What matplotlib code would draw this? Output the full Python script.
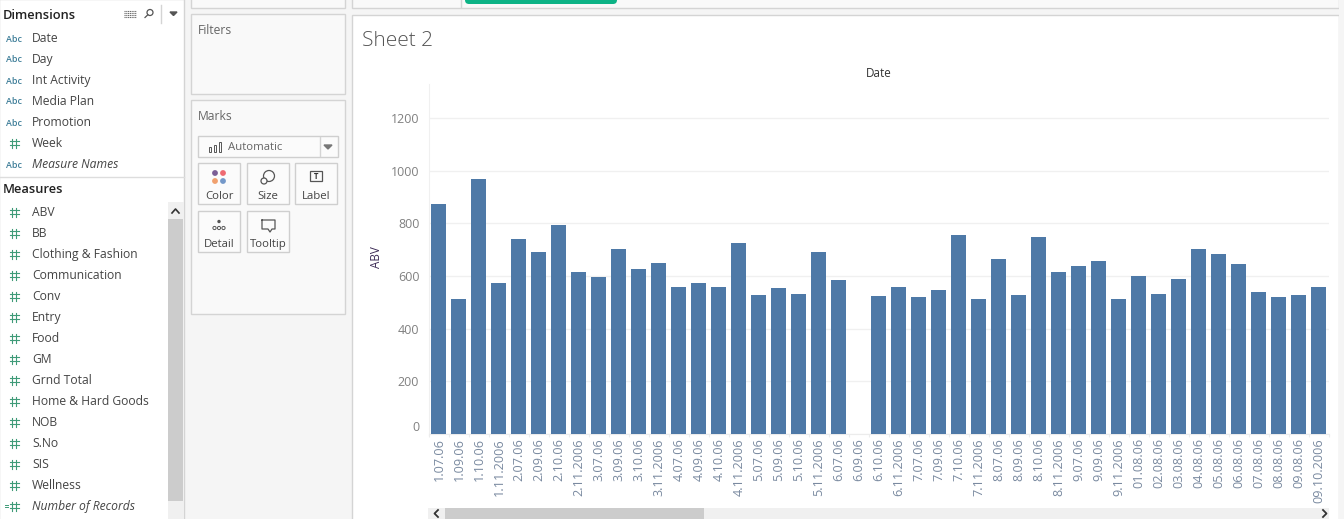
import matplotlib
matplotlib.use("Agg")
import matplotlib.pyplot as plt
from matplotlib.patches import Rectangle, FancyBboxPatch, Circle

dates = ["1.07.06","1.09.06","1.10.06","1.11.2006","2.07.06","2.09.06","2.10.06","2.11.2006",
         "3.07.06","3.09.06","3.10.06","3.11.2006","4.07.06","4.09.06","4.10.06","4.11.2006",
         "5.07.06","5.09.06","5.10.06","5.11.2006","6.07.06","6.09.06","6.10.06","6.11.2006",
         "7.07.06","7.09.06","7.10.06","7.11.2006","8.07.06","8.09.06","8.10.06","8.11.2006",
         "9.07.06","9.09.06","9.11.2006","01.08.06","02.08.06","03.08.06","04.08.06","05.08.06",
         "06.08.06","07.08.06","08.08.06","09.08.06","09.10.2006"]
abv = [873,513,968,573,740,691,794,615,596,703,627,650,558,573,558,725,528,555,532,691,585,0,
       524,558,520,547,756,513,665,528,748,615,638,657,513,600,532,589,703,684,646,539,520,528,558]
yticks = [0,200,400,600,800,1000,1200]
dimensions = ["Date","Day","Int Activity","Media Plan","Promotion","Week","Measure Names"]
measures = ["ABV","BB","Clothing & Fashion","Communication","Conv","Entry","Food","GM","Grnd Total",
            "Home & Hard Goods","NOB","S.No","SIS","Wellness","Number of Records"]

W, H = 1344, 519
plt.rcParams["font.family"] = ["Open Sans", "DejaVu Sans"]
fig = plt.figure(figsize=(W/100, H/100), dpi=100, facecolor="#f5f5f5")
ui = fig.add_axes([0, 0, 1, 1]); ui.set_xlim(0, W); ui.set_ylim(H, 0); ui.axis("off")

def box(x, y, w, h, fc="#f9f9f9", ec="#d4d4d4", lw=1.0, z=1):
    ui.add_patch(Rectangle((x, y), w, h, fc=fc, ec=ec, lw=lw, zorder=z))
def txt(x, y, s, size=9, color="#444444", **k):
    k.setdefault("va", "center")
    ui.text(x, y, s, fontsize=size, color=color, **k)
def hash_icon(cx, cy, color="#3f9b78"):
    for dx in (-2, 2):
        ui.plot([cx+dx, cx+dx], [cy-4.5, cy+4.5], color=color, lw=0.8, zorder=3)
    for dy in (-2, 2):
        ui.plot([cx-4.5, cx+4.5], [cy+dy, cy+dy], color=color, lw=0.8, zorder=3)

# left data pane
box(-1, -1, 185, 521, fc="white", ec="#d4d4d4")
txt(3, 15.5, "Dimensions", 9.3, "#222222", fontweight="semibold")
for i, d in enumerate(dimensions):
    y = 38 + i*21
    if d == "Week":
        hash_icon(14, y)
    else:
        txt(14, y+1, "Abc", 6.4, "#3d7d98", ha="center", fontweight="semibold")
    txt(32, y+0.5, d, 8.7, "#444444", style="italic" if d == "Measure Names" else "normal")
ui.plot([0, 184], [176.5, 176.5], color="#dddddd", lw=1)
txt(3, 189.5, "Measures", 9.3, "#222222", fontweight="semibold")
for i, m in enumerate(measures):
    y = 212 + i*21
    hash_icon(14, y)
    txt(32, y+0.5, m, 8.7, "#444444", style="italic" if m == "Number of Records" else "normal")
ui.plot([5, 8], [505, 505], color="#3f9b78", lw=0.7, zorder=3)
ui.plot([5, 8], [507, 507], color="#3f9b78", lw=0.7, zorder=3)
# pane icons
for yy in (10.5, 12.5, 14.5, 16.5):
    ui.plot([124, 136], [yy, yy], color="#666666", lw=0.8, ls=(0, (1, 0.6)))
ui.add_patch(Circle((150, 12.5), 3, fc="none", ec="#555555", lw=0.9))
ui.plot([145, 147.8], [17.5, 14.8], color="#555555", lw=0.9)
ui.plot([161, 161], [5, 23], color="#d4d4d4", lw=1)
ui.fill([170, 177, 173.5], [12, 12, 15.5], color="#555555")
# scrollbar
ui.add_patch(Rectangle((168, 202), 16, 317, fc="#f0f0f0", ec="none", zorder=2))
ui.add_patch(Rectangle((168, 219), 15, 282, fc="#cccccc", ec="none", zorder=2))
ui.plot([172, 175.5, 179], [213, 209, 213], color="#333333", lw=1.2, zorder=3)

# shelf panes
box(191, -5, 153.5, 13)
box(191, 14, 153.5, 80)
txt(198, 30.5, "Filters", 8.7, "#666666")
box(191, 100, 153.5, 214)
txt(198, 116.5, "Marks", 8.7, "#666666")
box(198, 136, 140, 21, fc="#fbfbfb", ec="#cfcfcf")
ui.plot([319.5, 319.5], [137, 156], color="#d4d4d4", lw=1)
ui.fill([324, 332, 328], [145, 145, 149], color="#777777")
for xx, hh in ((210, 5), (215, 7), (220, 10)):
    ui.add_patch(Rectangle((xx-1, 152-hh), 2.4, hh, fc="none", ec="#555555", lw=0.7, zorder=3))
txt(228, 147.5, "Automatic", 8.2, "#666666")
cards = [(198, 163, "Color"), (247, 163, "Size"), (295, 163, "Label"), (198, 211, "Detail"), (247, 211, "Tooltip")]
for x, y, s in cards:
    box(x, y, 42, 41, fc="#fbfbfb", ec="#cfcfcf")
    txt(x+21, y+33.5, s, 8.2, "#444444", ha="center")
for (cx, cy, c) in ((215, 173, "#7b5f96"), (223, 173, "#ee6a72"), (215, 181, "#f0a06e"), (223, 181, "#7498c9")):
    ui.add_patch(Circle((cx, cy), 2.9, fc=c, ec="none", zorder=3))
ui.add_patch(Circle((269, 176), 5.5, fc="none", ec="#555555", lw=0.9, zorder=3))
ui.add_patch(Circle((264, 181), 3, fc="#fbfbfb", ec="#555555", lw=0.9, zorder=4))
ui.add_patch(Rectangle((310, 171), 12, 10, fc="none", ec="#555555", lw=0.9, zorder=3))
txt(316, 176.3, "T", 5.5, "#333333", ha="center", fontweight="bold", zorder=4)
ui.add_patch(Circle((219, 221.5), 1.7, fc="#555555", ec="none", zorder=3))
for cx in (214.5, 219, 223.5):
    ui.add_patch(Circle((cx, 228), 1.6, fc="none", ec="#555555", lw=0.7, zorder=3))
ui.plot([262, 275, 275, 272, 270, 268, 262, 262], [220, 220, 229, 229, 232, 229, 229, 220], color="#555555", lw=0.9, zorder=3)

# top strip + worksheet
box(351.5, -5, 987, 12.5)
ui.plot([460.5, 460.5], [0, 7], color="#d4d4d4", lw=1)
ui.add_patch(FancyBboxPatch((465, -8), 152, 12, boxstyle="round,pad=0,rounding_size=4",
                            fc="#0db386", ec="none", zorder=3))
box(351.5, 14.5, 987, 510, fc="white", ec="#d4d4d4")
ui.add_patch(Rectangle((1339, -1), 6, 521, fc="#f5f5f5", ec="none", zorder=2))
txt(362, 41.5, "Sheet 2", 15, "#555555", fontweight="light", zorder=5)
txt(879, 73.5, "Date", 8.4, "#333333", ha="center", zorder=5)
txt(377, 257, "ABV", 8.4, "#3b2a55", ha="center", rotation=90, zorder=5)

# scrollbar under chart
ui.add_patch(Rectangle((428, 508), 901, 11, fc="#f0f0f0", ec="none", zorder=3))
ui.add_patch(Rectangle((445, 508), 259, 11, fc="#cccccc", ec="none", zorder=4))
ui.plot([438, 434.5, 438], [510, 513.5, 517], color="#333333", lw=1.3, zorder=5)
ui.plot([1323, 1326.5, 1323], [510, 513.5, 517], color="#333333", lw=1.3, zorder=5)

# chart
left, right, top, bottom = 429, 1329, 84, 434
ax = fig.add_axes([left/W, 1-bottom/H, (right-left)/W, (bottom-top)/H], zorder=4)
ax.patch.set_alpha(0)
xs = list(range(len(dates)))
ax.bar(xs, abv, width=0.75, color="#4e79a7", zorder=3)
ax.set_xlim(-0.5, len(dates)-0.5)
ax.set_ylim(0, 1329)
ax.set_yticks(yticks)
ax.set_xticks(xs)
ax.set_xticklabels(dates, rotation=90, fontsize=9.1, color="#7a8aa0", ha="center", va="top")
ax.set_xticks([x-0.5 for x in xs] + [len(xs)-0.5], minor=True)
ax.tick_params(axis="x", which="major", length=0, pad=3)
ax.tick_params(axis="x", which="minor", length=2.5, color="#ececec", width=0.8)
ax.tick_params(axis="y", length=0, pad=7, labelsize=9, labelcolor="#808080")
ax.get_yticklabels()[0].set_verticalalignment("bottom")
ax.get_yticklabels()[0].set_y(2)
ax.grid(axis="y", color="#f0f0f0", lw=1, zorder=0)
for s in ("top", "right"):
    ax.spines[s].set_visible(False)
ax.spines["left"].set_color("#f0f0f0")
ax.spines["bottom"].set_color("#ececec")

fig.savefig("out.png", dpi=100, facecolor=fig.get_facecolor())
